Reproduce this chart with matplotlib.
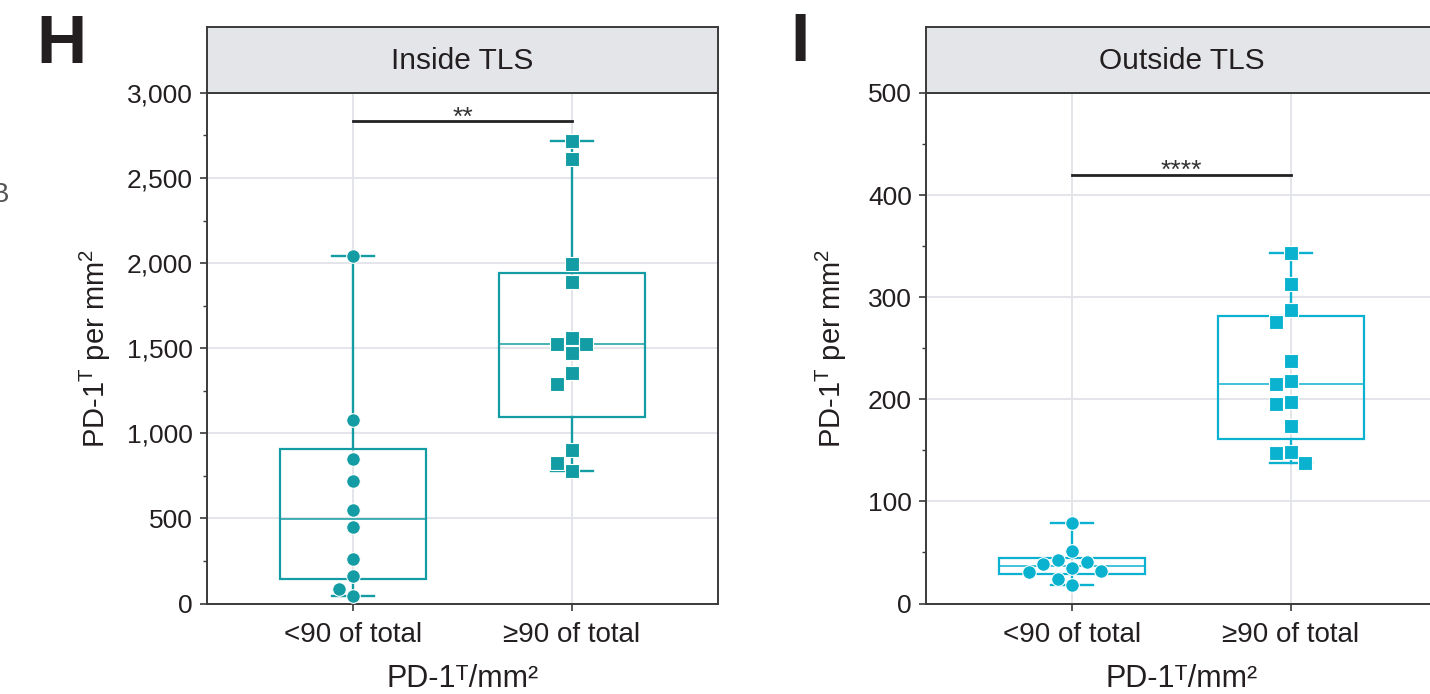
import numpy as np
import matplotlib
matplotlib.use('Agg')
import matplotlib.pyplot as plt
from matplotlib.patches import Rectangle
from matplotlib.ticker import MultipleLocator, FuncFormatter

plt.rcParams['font.family'] = ['Liberation Sans', 'DejaVu Sans']
plt.rcParams['mathtext.fontset'] = 'custom'
plt.rcParams['mathtext.rm'] = 'Liberation Sans'
plt.rcParams['mathtext.it'] = 'Liberation Sans:italic'
plt.rcParams['mathtext.bf'] = 'Liberation Sans:bold'

# ---------------------------------------------------------------------------
# Data (PD-1T cells per mm2)
# ---------------------------------------------------------------------------
categories = ['<90 of total', '\u226590 of total']
panel_titles = ['Inside TLS', 'Outside TLS']
panel_letters = ['H', 'I']

inside_low = [2043, 1076, 848, 717, 548, 450, 260, 164, 87, 47]
inside_high = [2716, 2612, 1994, 1889, 1557, 1527, 1527, 1471, 1356, 1288,
               900, 825, 777]
outside_low = [79.2, 51.1, 42.9, 40.9, 38.9, 34.9, 32.2, 30.6, 24.0, 17.8]
outside_high = [343.2, 313.1, 287.3, 276.1, 237.1, 218.0, 215.0, 197.2,
                195.8, 173.7, 148.3, 147.3, 137.4]

y_max = [3000, 500]
y_major = [500, 100]
y_minor = [250, 50]
sig_labels = ['**', '****']
sig_heights = [2834, 420]

colors = ['#139ca3', '#0bb2cf']
text_color = '#231f20'
spine_color = '#3a3a3a'
grid_color = '#e3e5eb'

W, H = 1430, 694
box_w = 0.67
cap_w = 0.19


def fx(px):
    return px / W


def fy(py):
    return 1 - py / H


def swarm_x(ax, values, center, lane_px=14.5, diam_px=13.5):
    """Spread points sideways on a lane grid so markers do not overlap."""
    values = np.asarray(values, dtype=float)
    y_px = ax.transData.transform(
        np.column_stack([np.full(len(values), center), values]))[:, 1]
    lanes = [0]
    for k in range(1, 8):
        lanes += [-k, k]
    placed = []
    lane_of = np.zeros(len(values))
    for i in np.argsort(-values, kind='stable'):
        for k in lanes:
            if all(((k - pk) * lane_px) ** 2 + (y_px[i] - py) ** 2 >= diam_px ** 2
                   for pk, py in placed):
                break
        placed.append((k, y_px[i]))
        lane_of[i] = k
    x0 = ax.transData.transform((center, 0))[0]
    x1 = ax.transData.transform((center + 1, 0))[0]
    return center + lane_of * lane_px / (x1 - x0)


def draw_group(ax, values, pos, color, marker):
    v = np.asarray(values, dtype=float)
    q1, med, q3 = np.percentile(v, [25, 50, 75], method='weibull')
    lo, hi = v.min(), v.max()
    ax.add_patch(Rectangle((pos - box_w / 2, q1), box_w, q3 - q1, fill=False,
                           ec=color, lw=1.6, zorder=3))
    ax.plot([pos - box_w / 2, pos + box_w / 2], [med, med], color=color,
            lw=1.1, zorder=3)
    ax.plot([pos, pos], [q3, hi], color=color, lw=1.7, zorder=3)
    ax.plot([pos, pos], [lo, q1], color=color, lw=1.7, zorder=3)
    for yv in (lo, hi):
        ax.plot([pos - cap_w / 2, pos + cap_w / 2], [yv, yv], color=color,
                lw=1.7, zorder=3)
    xs = swarm_x(ax, v, pos)
    ax.plot(xs, v, ls='none', marker=marker, ms=9.8, mfc=color, mec='white',
            mew=0.8, zorder=4)


fig = plt.figure(figsize=(W / 100, H / 100), dpi=100)

panels = [
    (207, [inside_low, inside_high], -0.183),
    (926, [outside_low, outside_high], -0.150),
]
ax_w = 511
y_top, y_bot, strip_top = 92.9, 603.5, 27

for p, (x_left, groups, ylab_x) in enumerate(panels):
    ax = fig.add_axes([fx(x_left), fy(y_bot), ax_w / W, (y_bot - y_top) / H])
    ax.set_xlim(-0.667, 1.667)
    ax.set_ylim(0, y_max[p])

    # axis styling
    for s in ax.spines.values():
        s.set_color(spine_color)
        s.set_linewidth(1.4)
    ax.yaxis.set_major_locator(MultipleLocator(y_major[p]))
    ax.yaxis.set_minor_locator(MultipleLocator(y_minor[p]))
    ax.yaxis.set_major_formatter(FuncFormatter(lambda v, _: f'{v:,.0f}'))
    ax.set_xticks([0, 1])
    ax.set_xticklabels(categories)
    ax.tick_params(axis='y', which='major', length=5, width=1.2,
                   color=spine_color, labelsize=19, labelcolor=text_color, pad=5)
    ax.tick_params(axis='x', which='major', length=5, width=1.2,
                   color=spine_color, labelsize=20, labelcolor=text_color, pad=8)
    ax.tick_params(axis='y', which='minor', length=3, width=1.0, color=spine_color)
    ax.grid(True, which='major', color=grid_color, lw=1.4, zorder=0)
    ax.set_axisbelow(True)

    ax.set_ylabel('PD-1$^{\\mathrm{T}}$ per mm$^{2}$', fontsize=21,
                  color=text_color)
    ax.yaxis.set_label_coords(ylab_x, 0.5)
    ax.set_xlabel('PD-1\u1d40/mm\u00b2', fontsize=22, color=text_color,
                  labelpad=12)

    # boxes and dots
    for g, (vals, marker) in enumerate(zip(groups, ['o', 's'])):
        draw_group(ax, vals, g, colors[p], marker)

    # significance bar
    ax.plot([0, 1], [sig_heights[p]] * 2, color='#222222', lw=2.0, zorder=3)
    ax.annotate(sig_labels[p], (0.5, sig_heights[p]), xytext=(0, -2.5),
                textcoords='offset points', ha='center', va='baseline',
                fontsize=19, color='#333333')

    # facet strip
    sx = fig.add_axes([fx(x_left), fy(y_top), ax_w / W, (y_top - strip_top) / H])
    sx.set_facecolor('#e4e5e8')
    sx.set_xticks([])
    sx.set_yticks([])
    for s in sx.spines.values():
        s.set_color(spine_color)
        s.set_linewidth(1.4)
    sx.text(0.5, 0.48, panel_titles[p], transform=sx.transAxes, ha='center',
            va='center', fontsize=21.5, color=text_color)

# panel letters
fig.text(fx(36), fy(63), panel_letters[0], fontsize=50, fontweight='bold',
         color=text_color, va='baseline', ha='left')
fig.text(fx(790), fy(61), panel_letters[1], fontsize=50, fontweight='bold',
         color=text_color, va='baseline', ha='left')
# fragment of the neighbouring panel label at the far left edge
fig.text(fx(9), fy(195), 'B', fontsize=20, color='#555555', ha='right',
         va='center')

fig.savefig('out.png', dpi=100)
